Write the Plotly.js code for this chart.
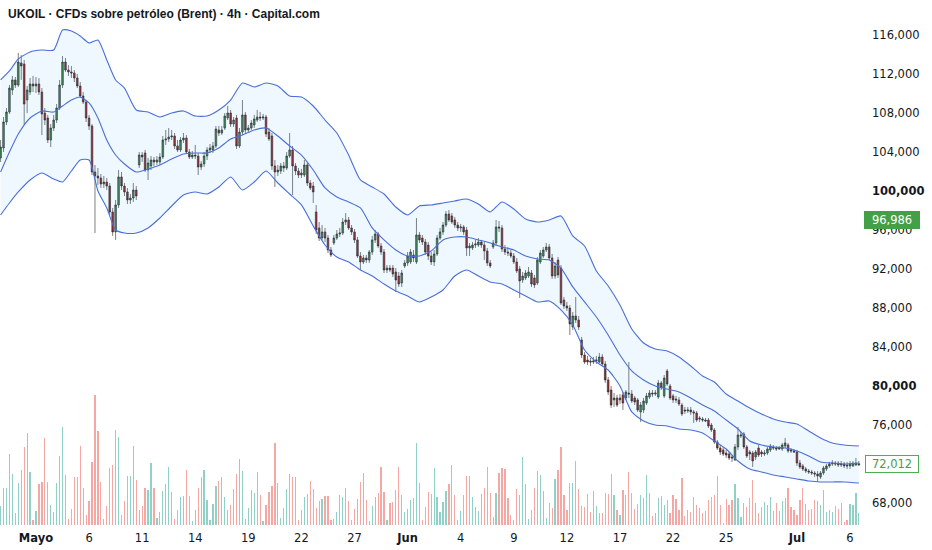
<!DOCTYPE html>
<html>
<head>
<meta charset="utf-8">
<script src="https://cdn.plot.ly/plotly-3.0.1.min.js"></script>
<style>
  html, body { margin: 0; padding: 0; background: #ffffff; }
  #chart { width: 932px; height: 550px; }
</style>
</head>
<body>
<div id="chart"></div>
<script>
// ---- Data (4h bars, weekends skipped; bar index = position on the time axis) ----
const open = [
103390,104410,107080,108100,110360,111390,110870,113130,113030,109330,
110150,110980,110770,110980,110150,108000,107490,105230,106460,107280,
108510,110870,113230,112410,112210,112100,111590,110770,109740,109130,
107490,106670,101950,101540,101330,100720,100920,100510,97850,95800,
98570,101440,100510,99900,99080,99280,100100,102670,103690,103900,
102150,102570,103180,102980,102980,103490,105230,105330,105540,105640,
104620,104210,105230,105440,104000,103490,103690,103590,102460,102770,
103590,104210,104210,104620,106260,105950,106460,107490,108000,106870,
107490,104620,106050,107800,106260,106460,106770,107280,107590,107490,
107590,106050,105640,102570,101950,102050,102570,102360,103590,104210,
102570,102050,101640,101640,102670,100820,100510,97850,96210,95180,
95800,95180,93950,94670,95180,95590,95690,96820,97030,96210,
95800,94980,93330,92720,93130,92920,93740,94980,95590,94360,
93740,91900,92100,92100,91690,91280,90570,92310,92620,92720,
93440,92720,95490,95180,94770,94460,93330,92720,93540,95180,
95800,96510,97640,97440,97030,96510,96210,96310,96000,94160,
94160,94460,94460,94770,94460,93850,92620,94260,94670,96310,
96210,94050,93740,93640,93330,92720,92000,90870,91080,91280,
91590,91080,90570,92720,93330,93950,94260,93130,91280,92920,
92100,88820,88210,88000,86050,87180,86770,84720,83180,82670,
82570,82460,82570,82460,82980,82260,80620,79590,78570,78770,
78570,79080,78770,79280,79180,78770,78570,77340,77540,78260,
78870,79280,79180,78870,80310,78980,81540,80000,78980,78670,
78570,78050,77540,77440,77540,77340,77230,76720,76620,76510,
76510,76000,75490,74260,73640,73440,73130,73030,72720,72410,
73750,74870,75080,73750,73230,73130,72720,73640,73230,73030,
73130,73440,73750,73640,73540,73540,73850,73950,73440,73340,
73230,72100,71800,71490,71280,71180,71080,70980,70670,71080,
71490,71800,72000,72100,72100,71900,72000,71900,71800,71800,
71900,71900];
const high = [
105230,107590,108510,110870,111800,111690,114150,113950,113440,110770,
111590,111800,111690,111590,110560,108510,107800,106870,107800,108920,
111390,113850,113640,112920,112820,112410,112000,111180,110150,109330,
107800,106870,102670,102360,101740,101540,101330,100820,98260,99080,
102150,101950,100820,100310,99690,100820,100510,104000,104000,104210,
103390,103590,103490,103590,103900,105640,106260,106460,106260,105950,
105230,105540,105950,105740,104310,104100,104720,103900,103080,104000,
104510,104820,105030,106670,106670,106670,108000,108720,108310,107590,
107800,106460,109330,108100,106770,107280,107800,108310,108100,107900,
107800,106460,105950,103180,102670,102870,102980,104000,105950,104620,
102870,102360,102260,103180,102980,101130,100920,98570,96820,96510,
96210,95490,94260,95490,96000,96210,97230,97740,97330,96510,
96100,95280,93740,93440,93440,93950,95390,96000,95800,94670,
94050,92410,92410,92410,92100,91690,91900,92920,93740,94050,
93950,97230,95800,95490,95080,94770,93740,93950,95490,96210,
96820,97950,98050,97740,97330,96820,96620,96510,96310,94670,
94770,94980,95180,94980,94770,94160,92920,94980,97030,96920,
96510,94460,94260,93950,93640,93130,92310,91690,91900,92210,
91900,91390,93230,93950,94260,94670,94570,93540,92720,93230,
92410,89130,88620,88310,87590,89130,87180,85030,83490,83080,
82870,82980,83080,83390,83280,82570,80920,80000,79280,79080,
79180,79390,79590,82460,79590,78980,78770,78360,78770,79280,
79590,79590,79590,80620,80510,81130,81750,80210,79180,78980,
78870,78260,77850,77850,77850,77540,77440,76920,76820,76720,
76720,76210,75690,74460,73950,73750,73440,73230,72920,74050,
75800,75280,75280,73950,73440,73340,73440,73950,73440,73440,
73750,74050,73950,73850,73850,74160,74670,74160,73640,73540,
73440,72410,72000,71690,71490,71390,71280,71280,71280,71800,
72000,72210,72410,72310,72310,72310,72210,72210,72310,72310,
72620,72310];
const low = [
102980,104000,106770,107900,109850,110560,110670,111390,106770,108000,
109850,110150,110050,109850,105740,106770,104920,104510,106150,106970,
108310,110560,112210,111800,111590,111180,110560,109540,108920,107080,
106260,101640,95690,100620,100310,100310,100100,97540,95390,94980,
98260,100100,99490,98670,98670,98870,99080,102360,102980,101950,
101130,102150,102570,102670,102670,103280,104720,105030,105230,104310,
104000,104000,104920,103800,103280,103280,103280,101640,102150,102460,
103180,103900,103900,104410,105640,105740,106260,107280,106570,106570,
104310,104410,105740,105950,106050,106260,106460,107080,107180,107280,
105540,105130,102150,100410,101540,101740,101950,102150,103390,99590,
101640,101330,101330,101440,100510,100100,98770,95590,94870,94980,
94770,93640,93230,94460,94980,95280,95490,96510,96000,95490,
94670,93130,91900,92510,92620,92620,93440,94670,94160,93440,
91590,91590,91690,91180,89640,90160,90160,92100,92310,92510,
92720,92510,94670,94460,93440,92920,92410,92310,93330,94980,
95490,96310,96820,96620,96210,95900,95800,95490,93330,93330,
93950,94160,94260,94160,92920,92310,92100,94050,94360,95800,
93740,93440,93330,93130,92510,91590,89030,90570,90870,91080,
90160,90050,90360,92510,93130,93740,92920,90980,90980,91080,
88310,87900,87690,85230,85740,86460,85740,82870,82260,82160,
82050,82260,82260,82360,82050,80310,79080,77750,77850,77850,
78160,77540,78570,78770,78260,78050,77340,76310,77230,78050,
78670,78870,78980,78670,79590,78770,80000,78570,78260,78260,
77950,76920,77130,77230,77030,76210,76310,76310,76310,76310,
75690,75280,74050,73440,72920,72820,72620,72410,72210,72310,
73440,74670,73540,72620,72410,71690,72410,72720,72720,72820,
72920,73230,73440,73340,73440,73340,73640,73130,73130,73130,
71800,71490,71280,71080,70980,70870,70670,70160,70460,70870,
71280,71590,71800,71800,71690,71690,71590,71490,71490,71690,
71800,71800];
const close = [
104510,107080,108100,110560,111390,110870,113230,112820,108920,110360,
110980,110770,110980,110150,107900,107280,105230,106460,107280,108510,
110870,113230,112410,112210,112100,111590,110770,109740,109130,107490,
106670,101950,101540,101330,100720,100920,100510,97850,95800,98570,
101440,100510,99900,99080,99280,100100,99490,103690,103490,102150,
102870,103180,102980,103180,103490,105230,105330,105540,105640,104620,
104210,105230,105440,104000,103490,103690,103590,102460,102770,103590,
104210,104410,104620,106360,105950,106260,107690,108000,106870,107280,
104620,106050,107800,106260,106460,106970,107390,107590,107490,107590,
105850,105330,102570,101950,102150,102570,102360,103590,104210,102570,
102050,101640,101850,102670,100820,100310,99900,96000,95180,95800,
95180,93950,93440,95180,95590,95690,96820,97030,96210,95800,
94980,93330,92720,93130,92920,93740,94980,95590,94360,93740,
91900,92100,91900,91490,90870,90460,91590,92620,93330,93740,
93130,95490,94980,94770,93740,93330,92720,93540,95180,95800,
96510,97640,97030,96820,96510,96210,96310,95800,94160,94360,
94460,94570,94770,94460,93850,92620,92310,94670,96310,96210,
94050,93740,93640,93330,92720,91800,90770,91280,91590,91690,
90460,90360,92920,93640,93950,94260,93130,91280,92310,91390,
88520,88210,88000,86360,87180,86770,86050,83180,82460,82460,
82460,82570,82670,82980,82260,80620,79390,78050,78770,78050,
78770,78260,79390,79180,78460,78360,77540,78050,78460,78980,
79280,79180,79280,80310,79800,80820,80210,78770,78570,78570,
78160,77130,77440,77540,77340,77230,76510,76620,76510,76410,
75900,75490,74260,73640,73230,73030,72920,72620,72620,73750,
74980,74980,73750,72820,73030,72310,73230,72920,73030,73130,
73540,73850,73640,73540,73640,73950,74160,73340,73340,73230,
72100,71690,71490,71280,71180,71080,70980,70770,71080,71590,
71800,72000,72100,72000,71900,72000,71800,71800,72000,72100,
72100,72012];
const volume = [
19,37,37,71,51,12,42,55,78,92,
53,5,14,41,43,87,43,20,13,42,
69,98,50,6,16,48,48,79,37,10,
24,63,130,94,43,6,19,57,60,95,
88,10,24,49,49,79,45,15,19,37,
35,62,37,7,13,34,41,58,33,6,
15,28,29,55,29,4,15,37,48,55,
25,5,21,39,44,48,28,15,20,36,
51,66,54,6,17,35,32,53,30,4,
20,33,39,82,42,7,17,36,51,48,
48,5,15,28,31,44,36,17,24,26,
29,29,5,6,13,30,28,37,24,5,
16,26,43,52,25,4,19,28,32,58,
33,5,22,23,35,58,30,13,16,25,
27,82,42,5,18,33,31,57,28,
13,23,34,41,60,30,5,14,30,49,
49,28,18,14,31,37,58,32,8,32,
52,57,56,27,10,5,36,30,68,41,
6,15,37,54,50,34,7,22,17,46,
55,78,30,15,42,42,64,36,19,18,
31,13,34,19,12,12,32,31,51,30,
15,10,35,30,53,32,16,21,30,27,
50,32,9,12,27,29,20,25,12,30,
26,15,47,9,15,13,28,20,17,12,
14,25,28,30,49,20,2,26,20,25,
41,27,8,22,18,27,45,22,12,18,
23,20,28,14,22,14,24,27,37,18,
15,10,25,37,21,15,16,25,24,20,
35,13,15,13,19,16,22,3,5,21,
20,32,12];

// Bollinger bands (20, 2) read at these bar indices
const bandIdx = [0,3,6,10,14,18,21,24,27,30,33,36,39,42,46,50,54,58,62,66,
  70,74,78,82,86,90,94,98,102,106,110,114,118,122,126,130,134,138,142,146,
  150,154,158,162,166,170,174,178,182,186,190,194,198,202,206,210,214,218,222,226,
  230,234,238,242,246,250,254,258,262,266,270,274,278,282,286,291];
const bbUpper = [111390,112310,113540,114260,114460,114460,116510,116410,115900,115180,
  115490,113440,111390,110560,108310,108100,107590,108000,108210,107690,
  107690,108310,109330,111080,110670,111080,110770,109740,109640,108720,
  107280,105950,103690,101130,100410,99690,98360,97540,98460,98570,
  98770,98980,99180,98670,97850,98870,98160,97130,96820,97030,
  97440,95390,94360,91800,90260,88310,85850,84410,83800,83590,
  82980,82050,81030,80410,79180,78460,77750,77130,76620,76310,
  76100,75390,74670,74160,73950,73850];
const bbMiddle = [101950,104000,105850,107490,108210,108100,108720,109330,109640,109030,
  107490,105230,103690,102770,101950,102260,102670,103280,103800,103900,
  103900,104410,105330,105740,106260,106460,105640,104620,103690,102150,
  100310,99390,98870,98260,96210,94980,93950,93330,93330,93850,
  94980,95280,95280,94980,94670,94260,93950,93330,93030,92920,
  92100,90160,88620,87080,85230,83180,81540,80620,80000,79690,
  79390,78770,78050,77440,76510,75590,74360,73950,73750,73640,
  73340,72820,72210,72100,72000,72100];
const bbLower = [97540,98770,99900,101130,101850,101230,100920,102050,103180,103180,
  100000,98260,96000,95690,95690,96210,97230,98460,99590,99900,
  99690,100410,101440,100100,100920,102050,100820,99690,98570,96410,
  94460,93230,92720,91900,91280,90460,89750,89230,88620,89130,
  89850,91280,91900,91280,90670,90460,89850,89230,88620,88720,
  87800,86260,83690,82460,81640,80000,77340,76410,76000,75900,
  75590,75490,75180,74360,73540,72310,71490,71180,70870,70670,
  70460,70260,70160,70160,70160,70050];

// Time axis labels
const dayTickIdx = [12,30,48,66,84,102,120,138,156,174,192,210,228,246,270,288];
const dayTickText = ['<b>Mayo</b>','6','11','14','19','22','27','<b>Jun</b>','4','9','12','17','22','25','<b>Jul</b>','6'];

// Price axis labels
const priceTicks = [68000,72000,76000,80000,84000,88000,92000,96000,100000,104000,108000,112000,116000];
const priceTickText = ['68,000','72,000','76,000','<b>80,000</b>','84,000','88,000','92,000','96,000','<b>100,000</b>','104,000','108,000','112,000','116,000'];

const markerPrice = 96986;
const lastPrice = 72012;
const titleText = 'UKOIL · CFDs sobre petróleo (Brent) · 4h · Capital.com';

// ---- Build traces ----
const barIdx = open.map((_, i) => i);
const UP_VOL = '#90d1c7', DN_VOL = '#f4a7a3';
const volColors = close.map((c, i) => (c >= open[i] ? UP_VOL : DN_VOL));
const bandLine = { color: '#4a6fd8', width: 1.1, shape: 'spline', smoothing: 0.6 };

const traces = [
  { type: 'bar', x: barIdx, y: volume, marker: { color: volColors, line: { width: 0 } },
    width: 0.42, yaxis: 'y', hoverinfo: 'skip' },
  { type: 'scatter', mode: 'lines', x: bandIdx, y: bbUpper, line: bandLine, yaxis: 'y2', hoverinfo: 'skip' },
  { type: 'scatter', mode: 'lines', x: bandIdx, y: bbLower, line: bandLine, yaxis: 'y2',
    fill: 'tonexty', fillcolor: 'rgba(33,150,243,0.07)', hoverinfo: 'skip' },
  { type: 'scatter', mode: 'lines', x: bandIdx, y: bbMiddle, line: bandLine, yaxis: 'y2', hoverinfo: 'skip' },
  { type: 'candlestick', x: barIdx, open: open, high: high, low: low, close: close, yaxis: 'y2',
    increasing: { line: { color: '#2a2a2a', width: 0.6 }, fillcolor: '#468c52' },
    decreasing: { line: { color: '#2a2a2a', width: 0.6 }, fillcolor: '#a02a2a' },
    whiskerwidth: 0, hoverinfo: 'skip' }
];

const tickFont = { family: 'DejaVu Sans, sans-serif', size: 11.5, color: '#131722' };

const layout = {
  width: 932, height: 550,
  margin: { l: 0, r: 69, t: 0, b: 23 },
  paper_bgcolor: '#ffffff', plot_bgcolor: '#ffffff',
  showlegend: false,
  boxgap: 0.2,
  bargap: 0,
  title: {
    text: titleText, xref: 'container', yref: 'container',
    x: 8 / 932, xanchor: 'left', y: 1 - 14 / 550, yanchor: 'middle',
    font: { family: 'Liberation Sans, Arial, sans-serif', size: 12, weight: 700, color: '#131722' }
  },
  xaxis: {
    range: [-0.2, 292.4], tickmode: 'array', tickvals: dayTickIdx, ticktext: dayTickText,
    showgrid: false, zeroline: false, showline: false, ticks: '',
    tickfont: tickFont, rangeslider: { visible: false }, fixedrange: true, ticklabelstandoff: 2
  },
  yaxis: { range: [-2, 525], visible: false, showgrid: false, zeroline: false, fixedrange: true },
  yaxis2: {
    overlaying: 'y', side: 'right', range: [65538, 119590],
    tickmode: 'array', tickvals: priceTicks, ticktext: priceTickText,
    showgrid: false, zeroline: false, showline: false, ticks: '',
    tickfont: tickFont, ticklabelstandoff: 8, fixedrange: true
  },
  annotations: [
    { xref: 'paper', x: 1, xanchor: 'left', xshift: 1, yref: 'y2', y: markerPrice, yanchor: 'middle',
      text: '96,986', showarrow: false, bgcolor: '#43a047', bordercolor: '#43a047', borderwidth: 1,
      borderpad: 1, width: 52, align: 'center',
      font: { family: 'DejaVu Sans, sans-serif', size: 11.5, color: '#ffffff' } },
    { xref: 'paper', x: 1, xanchor: 'left', xshift: 2, yref: 'y2', y: lastPrice, yanchor: 'middle',
      text: '72,012', showarrow: false, bgcolor: '#ffffff', bordercolor: '#4caf50', borderwidth: 1,
      borderpad: 1, width: 50, align: 'center',
      font: { family: 'DejaVu Sans, sans-serif', size: 11.5, color: '#43a047' } }
  ]
};

Plotly.newPlot('chart', traces, layout, { displayModeBar: false, staticPlot: true });
</script>
</body>
</html>
